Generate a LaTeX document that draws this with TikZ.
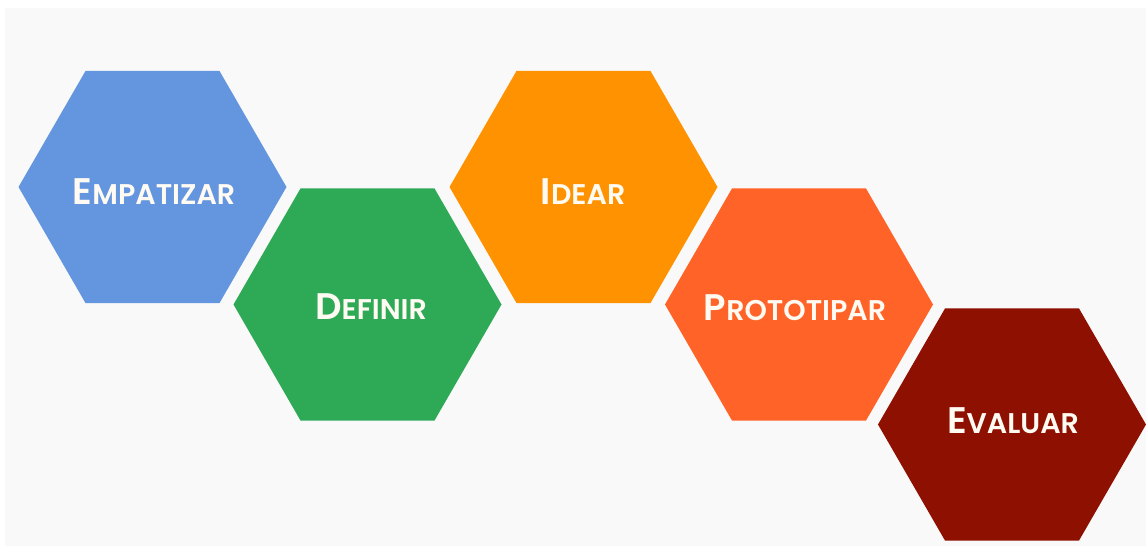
\documentclass[tikz,border=0pt]{standalone}
\usepackage{fontspec}
\setmainfont{Poppins}[BoldFont={Poppins SemiBold}]
\usetikzlibrary{shapes.geometric}
\definecolor{bgray}{HTML}{F9F9F9}
\definecolor{hblue}{HTML}{6396DE}
\definecolor{hgreen}{HTML}{2EAA57}
\definecolor{horange}{HTML}{FF9200}
\definecolor{hred}{HTML}{FF6328}
\definecolor{hdark}{HTML}{8E1000}
\definecolor{txtc}{HTML}{FFFAF2}
\newcommand\fakesc[2]{{\fontsize{37}{37}\selectfont #1}{\fontsize{28.5}{28.5}\selectfont #2}}
\tikzset{
  hexa/.style={regular polygon, regular polygon sides=6, minimum size=268pt, inner sep=0pt, outer sep=0pt, draw=none},
  lbl/.style={text=txtc, font=\bfseries, inner sep=0pt, anchor=center}
}
\begin{document}
\begin{tikzpicture}[x=1pt,y=-1pt]
\useasboundingbox (0,0) rectangle (1146,546);
\fill[white] (0,0) rectangle (1146,546);
\fill[bgray] (5,8) rectangle (1146,546);
\node[hexa, fill=hblue]   (h1) at (152.5,187) {};
\node[hexa, fill=hgreen]  (h2) at (367.5,304.5) {};
\node[hexa, fill=horange] (h3) at (583.5,187) {};
\node[hexa, fill=hred]    (h4) at (799,304.5) {};
\node[hexa, fill=hdark]   (h5) at (1012,424.5) {};
\node[lbl] (t1) at (154,192) {\fakesc{E}{MPATIZAR}};
\node[lbl] (t2) at (371,307) {\fakesc{D}{EFINIR}};
\node[lbl] (t3) at (583,192) {\fakesc{I}{DEAR}};
\node[lbl] (t4) at (795,308) {\fakesc{P}{ROTOTIPAR}};
\node[lbl] (t5) at (1013,421) {\fakesc{E}{VALUAR}};
\end{tikzpicture}
\end{document}
